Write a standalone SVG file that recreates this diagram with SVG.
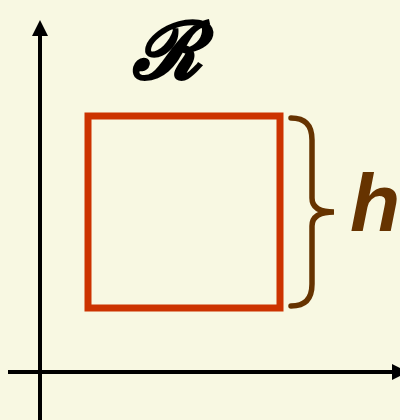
<svg xmlns="http://www.w3.org/2000/svg" width="400" height="420" viewBox="0 0 400 420">
<style>
.axis{stroke:#000;stroke-width:4;fill:none}
</style>
<defs>
<marker id="arr" markerWidth="4" markerHeight="4" refX="0" refY="2" orient="auto" markerUnits="strokeWidth">
<path d="M0,0 L4,2 L0,4 Z" fill="#000"/>
</marker>
</defs>
<rect width="400" height="420" fill="#f8f8e2"/>
<g id="connectors">
<line class="axis" x1="40" y1="420" x2="40" y2="36" marker-end="url(#arr)"/>
<line class="axis" x1="8" y1="372" x2="392" y2="372" marker-end="url(#arr)"/>
</g>
<g id="region">
<rect x="88" y="116" width="192" height="192" fill="none" stroke="#cc3300" stroke-width="7"/>
</g>
<g id="brace">
<path d="M291,118 C304,118 312,124 312,140 L312,198 C312,208 320,212 334,212 C320,212 312,216 312,226 L312,284 C312,300 304,306 291,306" fill="none" stroke="#663300" stroke-width="5.5" stroke-linecap="round"/>
</g>
<g id="label-h">
<text x="350" y="231" font-family="Liberation Sans, Arial, sans-serif" font-weight="bold" font-style="italic" font-size="82" fill="#663300">h</text>
</g>
<g id="label-R">
<text x="167" y="78" text-anchor="middle" font-family="DejaVu Serif, serif" font-weight="bold" font-style="italic" font-size="78" fill="#000" stroke="#000" stroke-width="2">ℛ</text>
</g>
</svg>
